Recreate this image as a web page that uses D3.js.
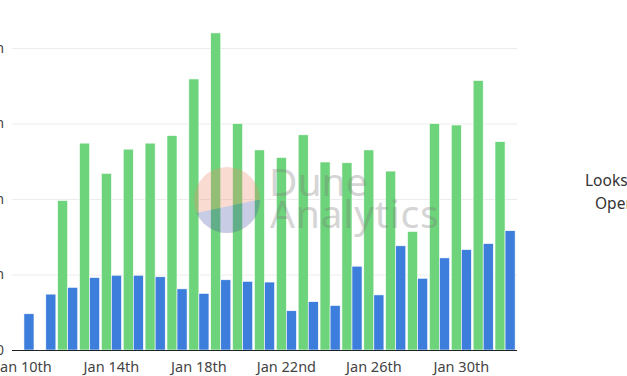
<!DOCTYPE html>
<html>
<head>
<meta charset="utf-8">
<script src="https://cdn.jsdelivr.net/npm/d3@7"></script>
<style>
  body { margin: 0; background: #fff; }
  svg { display: block; font-family: "Noto Sans", "Open Sans", sans-serif; }
</style>
</head>
<body>
<div id="chart-area"></div>
<script>
// daily volume, millions
var days = ["Jan 10th","Jan 11th","Jan 12th","Jan 13th","Jan 14th","Jan 15th","Jan 16th","Jan 17th",
    "Jan 18th","Jan 19th","Jan 20th","Jan 21st","Jan 22nd","Jan 23rd","Jan 24th","Jan 25th",
    "Jan 26th","Jan 27th","Jan 28th","Jan 29th","Jan 30th","Jan 31st","Feb 1st"];
var looksrare = [0, 0, 198, 274, 234, 266, 274, 284, 359, 420, 300, 265, 255, 285, 249, 248,
    265, 237, 157, 300, 298, 357, 276];
var opensea = [48, 74, 83, 96, 99, 99, 97, 81, 75, 93, 91, 90, 52, 64, 59, 111,
    73, 138, 95, 122, 133, 141, 158];
var yTicks = [0, 100, 200, 300, 400];
var tickDays = ["Jan 10th","Jan 14th","Jan 18th","Jan 22nd","Jan 26th","Jan 30th"];
var seriesNames = ["LooksRare", "OpenSea"];
var colors = ["#6dd47b", "#3d7ddb"];

var width = 627, height = 376;
var left = 12, right = 517, bottom = 350;

var svg = d3.select("#chart-area").append("svg")
    .attr("width", width)
    .attr("height", height);

var x = d3.scaleBand()
    .domain(days)
    .range([left + 1, right - 1])
    .paddingInner(0.08)
    .paddingOuter(0.04);

var x1 = d3.scaleBand()
    .domain(seriesNames)
    .range([0, x.bandwidth()]);

var y = d3.scaleLinear()
    .domain([0, 400])
    .range([bottom, 48]);

// gridlines
svg.append("g").selectAll("line")
    .data(yTicks.slice(1))
    .enter().append("line")
    .attr("x1", left)
    .attr("x2", right)
    .attr("y1", (d) => y(d) + 0.5)
    .attr("y2", (d) => y(d) + 0.5)
    .attr("stroke", "#ececec");

// y labels (mostly off-canvas)
svg.append("g").selectAll("text")
    .data(yTicks)
    .enter().append("text")
    .attr("x", 4)
    .attr("y", (d) => y(d))
    .attr("dy", "0.35em")
    .attr("text-anchor", "end")
    .attr("font-size", "14px")
    .attr("fill", "#444")
    .text((d) => d == 0 ? "0" : d + "m");

var groups = svg.append("g").selectAll("g")
    .data(days)
    .enter().append("g")
    .attr("transform", (d) => "translate(" + x(d) + ",0)");

groups.selectAll("rect")
    .data((d, i) => [looksrare[i], opensea[i]])
    .enter().append("rect")
    .attr("x", (d, j) => x1(seriesNames[j]))
    .attr("y", (d) => y(d))
    .attr("width", x1.bandwidth())
    .attr("height", (d) => bottom - y(d))
    .attr("fill", (d, j) => colors[j])
    .attr("stroke", "#fff")
    .attr("stroke-width", 0.6);

// x axis
var xAxisGroup = svg.append("g")
    .attr("transform", "translate(0," + bottom + ")");
xAxisGroup.call(d3.axisBottom(x).tickValues(tickDays).tickSize(0).tickPadding(12));
xAxisGroup.select(".domain")
    .attr("d", "M" + left + ",0.5H" + right)
    .attr("stroke", "#222");
xAxisGroup.selectAll("text")
    .attr("font-size", "14.5px")
    .attr("font-family", "\"Noto Sans\", sans-serif")
    .attr("fill", "#444");

// watermark
var wm = svg.append("g").attr("opacity", 0.3);
var cx = 227, cy = 200, r = 33;
wm.append("clipPath").attr("id", "logo-clip")
    .append("circle").attr("cx", cx).attr("cy", cy).attr("r", r);
wm.append("circle").attr("cx", cx).attr("cy", cy).attr("r", r).attr("fill", "#f08c6a");
wm.append("path")
    .attr("clip-path", "url(#logo-clip)")
    .attr("d", "M" + (cx - 40) + "," + (cy + 15) + "L" + (cx + 40) + "," + (cy - 2) +
        "L" + (cx + 40) + "," + (cy + 40) + "L" + (cx - 40) + "," + (cy + 40) + "Z")
    .attr("fill", "#4b5aa8");
wm.append("text")
    .attr("x", 269).attr("y", 196)
    .attr("font-size", "39px")
    .attr("fill", "#777")
    .text("Dune");
wm.append("text")
    .attr("x", 270).attr("y", 228)
    .attr("font-size", "39px")
    .attr("letter-spacing", "0.8px")
    .attr("fill", "#777")
    .text("Analytics");

// legend
svg.append("g").selectAll("text")
    .data(seriesNames)
    .enter().append("text")
    .attr("x", (d, i) => i == 0 ? 585 : 595)
    .attr("y", (d, i) => 186 + i * 23)
    .attr("font-size", "15.5px")
    .attr("fill", "#333")
    .text((d) => d);
</script>
</body>
</html>
